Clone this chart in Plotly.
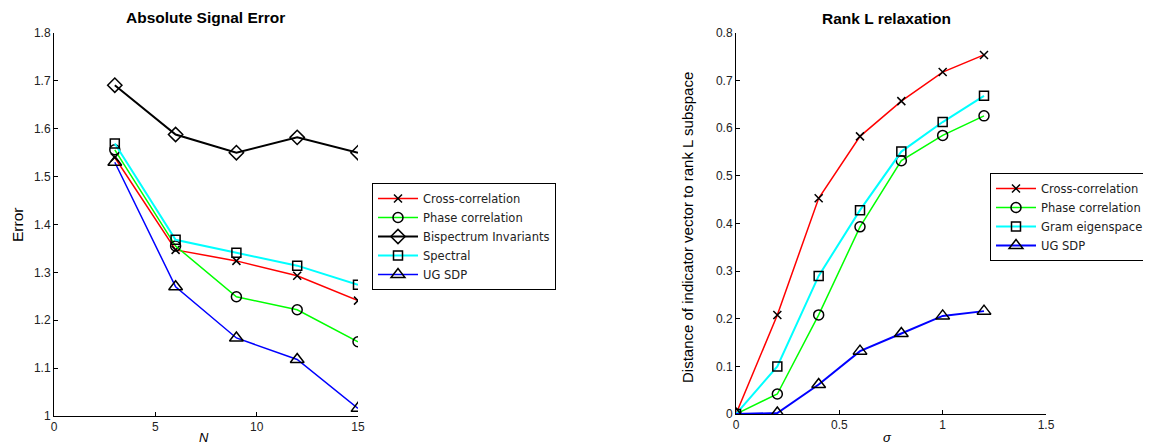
import plotly.graph_objects as go

# ---------------- data ----------------
N_vals = [3, 6, 9, 12, 15]
cross_corr_left = [1.54, 1.347, 1.324, 1.293, 1.241]
phase_corr_left = [1.556, 1.355, 1.249, 1.222, 1.155]
bispectrum_left = [1.691, 1.588, 1.550, 1.582, 1.550]
spectral_left = [1.569, 1.368, 1.341, 1.314, 1.274]
ugsdp_left = [1.530, 1.270, 1.163, 1.118, 1.016]

sigma_vals = [0, 0.2, 0.4, 0.6, 0.8, 1.0, 1.2]
cross_corr_right = [0.0, 0.208, 0.453, 0.583, 0.657, 0.718, 0.754]
phase_corr_right = [0.0, 0.042, 0.208, 0.393, 0.532, 0.585, 0.626]
gram_right = [0.0, 0.100, 0.290, 0.428, 0.551, 0.613, 0.668]
ugsdp_right = [0.0, 0.002, 0.062, 0.132, 0.169, 0.206, 0.216]

left_yticks = [1, 1.1, 1.2, 1.3, 1.4, 1.5, 1.6, 1.7, 1.8]
left_xticks = [0, 5, 10, 15]
right_yticks = [0, 0.1, 0.2, 0.3, 0.4, 0.5, 0.6, 0.7, 0.8]
right_xticks = [0, 0.5, 1, 1.5]

# page body has an 8px margin, so the figure is offset by 8px
OFF = 8
W, H = 1151 - OFF, 445 - OFF
FONT = "Liberation Sans, Arial, sans-serif"
LEG_FONT = "DejaVu Sans, Liberation Sans, sans-serif"

fig = go.Figure()

def add(x, y, name, color, symbol, xa, ya, legend, width=1.5, size=9):
    fig.add_trace(go.Scatter(
        x=x, y=y, name=name, mode="lines+markers",
        line=dict(color=color, width=width),
        marker=dict(symbol=symbol, size=size, color="black",
                    line=dict(color="black", width=1.5)),
        xaxis=xa, yaxis=ya, legend=legend))

add(N_vals, cross_corr_left, "Cross-correlation", "#ff0000", "x-thin-open", "x", "y", "legend", size=8)
add(N_vals, phase_corr_left, "Phase correlation", "#00ff00", "circle-open", "x", "y", "legend", size=10)
add(N_vals, bispectrum_left, "Bispectrum Invariants", "#000000", "diamond-open", "x", "y", "legend", width=2, size=11)
add(N_vals, spectral_left, "Spectral", "#00ffff", "square-open", "x", "y", "legend", width=2, size=9)
add(N_vals, ugsdp_left, "UG SDP", "#0000ff", "triangle-up-open", "x", "y", "legend", size=12)

add(sigma_vals, cross_corr_right, "Cross-correlation", "#ff0000", "x-thin-open", "x2", "y2", "legend2", size=8)
add(sigma_vals, phase_corr_right, "Phase correlation", "#00ff00", "circle-open", "x2", "y2", "legend2", size=10)
add(sigma_vals, gram_right, "Gram eigenspace", "#00ffff", "square-open", "x2", "y2", "legend2", width=2, size=9)
add(sigma_vals, ugsdp_right, "UG SDP", "#0000ff", "triangle-up-open", "x2", "y2", "legend2", width=2, size=12)

def px_x(p):
    return (p - OFF) / W

def px_y(p):
    return (H - (p - OFF)) / H

axis_common = dict(showgrid=False, zeroline=False, showline=True, linecolor="black",
                   linewidth=1, ticks="inside", ticklen=4, tickcolor="black",
                   tickfont=dict(family=FONT, size=12, color="#222"), mirror=False,
                   automargin=False)

legend_common = dict(xanchor="left", yanchor="top",
                     bgcolor="white", bordercolor="black", borderwidth=1,
                     font=dict(family=LEG_FONT, size=11.5, color="#222"), tracegroupgap=0,
                     itemwidth=40)

fig.update_layout(
    template="none",
    width=W, height=H, margin=dict(l=0, r=0, t=0, b=0),
    paper_bgcolor="white", plot_bgcolor="white",
    font=dict(family=FONT, size=12, color="black"),
    xaxis=dict(domain=[px_x(54), px_x(358)], range=[0, 15], tickvals=left_xticks,
               anchor="y", **axis_common),
    yaxis=dict(domain=[px_y(416), px_y(33)], range=[1, 1.8], tickvals=left_yticks,
               anchor="x", **axis_common),
    xaxis2=dict(domain=[px_x(736), px_x(1046)], range=[0, 1.5], tickvals=right_xticks,
                anchor="y2", **axis_common),
    yaxis2=dict(domain=[px_y(414), px_y(33)], range=[0, 0.8], tickvals=right_yticks,
                anchor="x2", **axis_common),
    legend=dict(x=px_x(372), y=px_y(183), **legend_common),
    legend2=dict(x=px_x(990), y=px_y(173), **legend_common),
    showlegend=True,
)

annotations = [
    dict(text="<b>Absolute Signal Error</b>", x=px_x(205), y=px_y(17), font=dict(size=15.5)),
    dict(text="<b>Rank L relaxation</b>", x=px_x(886), y=px_y(18), font=dict(size=15.5)),
    dict(text="Error", x=px_x(18), y=px_y(225), textangle=-90, font=dict(size=15.5)),
    dict(text="Distance of indicator vector to rank L subspace", x=px_x(688), y=px_y(228),
         textangle=-90, font=dict(size=15)),
    dict(text="<i>N</i>", x=px_x(204), y=px_y(437), font=dict(size=13)),
    dict(text="<i>σ</i>", x=px_x(887), y=px_y(437), font=dict(size=13)),
]
for a in annotations:
    a.update(xref="paper", yref="paper", showarrow=False, xanchor="center", yanchor="middle")
    a["font"] = dict(family=FONT, color="black", **a["font"])
fig.update_layout(annotations=annotations)

fig.write_html("out.html")
